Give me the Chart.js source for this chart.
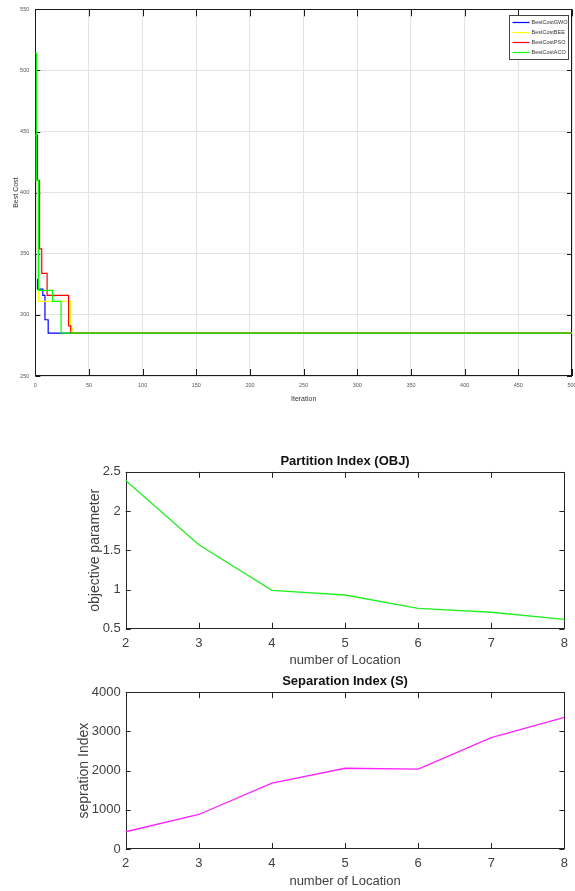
<!DOCTYPE html>
<html>
<head>
<meta charset="utf-8">
<script src="https://cdn.jsdelivr.net/npm/chart.js@4.4.1/dist/chart.umd.min.js"></script>
<style>
  html, body { margin: 0; padding: 0; background: #fff; }
  body { width: 575px; height: 891px; position: relative; overflow: hidden; }
  canvas { position: absolute; left: 0; }
</style>
</head>
<body>
<canvas id="costChart" width="575" height="410" style="top:0"></canvas>
<canvas id="partChart" width="575" height="230" style="top:440px"></canvas>
<canvas id="sepChart" width="575" height="221" style="top:670px"></canvas>
<script>
// Curvas de convergencia: iteración donde empieza cada nuevo valor (escalones)
const gwoIter = [0, 1, 2, 7, 9, 12, 500];
const gwoCost = [460, 447, 321, 316, 296, 285, 285];
const beeIter = [0, 1, 2, 3, 33, 35, 500];
const beeCost = [447, 410, 330, 311, 289, 285, 285];
const psoIter = [0, 1, 4, 6, 11, 31, 33, 500];
const psoCost = [422, 410, 354, 334, 316, 291, 285, 285];
const acoIter = [0, 1, 3, 16, 24, 500];
const acoCost = [514, 410, 320, 311, 285, 285];
const costLabels = ['BestCostGWO', 'BestCostBEE', 'BestCostPSO', 'BestCostACO'];

// Índices por número de ubicaciones
const locations = [2, 3, 4, 5, 6, 7, 8];
const partitionIndex = [2.39, 1.57, 0.99, 0.93, 0.76, 0.71, 0.62];
const separationIndex = [440, 880, 1680, 2060, 2040, 2840, 3360];

const FONT = '"Liberation Sans", Arial, sans-serif';

function puntos(xs, ys) {
  return xs.map((x, i) => ({ x, y: ys[i] }));
}

// Marco completo con marcas de escala hacia dentro (estilo MATLAB)
const boxTicks = {
  id: 'boxTicks',
  beforeDatasetsDraw(chart, args, opts) {
    const { ctx, chartArea: a, scales } = chart;
    const sx = scales.x, sy = scales.y;
    ctx.save();
    ctx.strokeStyle = opts.color;
    ctx.lineWidth = 1;
    ctx.beginPath();
    sx.ticks.forEach((t, i) => {
      const px = Math.round(sx.getPixelForTick(i)) + 0.5;
      ctx.moveTo(px, a.bottom); ctx.lineTo(px, a.bottom - opts.xLen);
      ctx.moveTo(px, a.top); ctx.lineTo(px, a.top + opts.xLen);
    });
    sy.ticks.forEach((t, i) => {
      const py = Math.round(sy.getPixelForTick(i)) + 0.5;
      ctx.moveTo(a.left, py); ctx.lineTo(a.left + opts.yLen, py);
      ctx.moveTo(a.right, py); ctx.lineTo(a.right - opts.yLen, py);
    });
    ctx.stroke();
    ctx.lineWidth = opts.width;
    ctx.strokeRect(Math.round(a.left) + 0.5, Math.round(a.top) + 0.5,
      Math.round(a.width) - 1, Math.round(a.height) - 1);
    ctx.restore();
  }
};

// Leyenda en caja, esquina superior derecha del área de trazado
const cornerLegend = {
  id: 'cornerLegend',
  afterDatasetsDraw(chart) {
    const { ctx, chartArea: a } = chart;
    const w = 59, h = 44;
    const x0 = Math.round(a.right) - 4 - w + 0.5;
    const y0 = Math.round(a.top) + 6 + 0.5;
    ctx.save();
    ctx.fillStyle = '#fff';
    ctx.fillRect(x0, y0, w, h);
    ctx.strokeStyle = '#444';
    ctx.lineWidth = 1;
    ctx.strokeRect(x0, y0, w, h);
    ctx.font = '5.5px ' + FONT;
    ctx.textBaseline = 'middle';
    chart.data.datasets.forEach((ds, i) => {
      const yy = y0 + 7 + i * 10;
      ctx.strokeStyle = ds.borderColor;
      ctx.lineWidth = 1.2;
      ctx.beginPath();
      ctx.moveTo(x0 + 3, yy);
      ctx.lineTo(x0 + 20, yy);
      ctx.stroke();
      ctx.fillStyle = '#333';
      ctx.fillText(ds.label, x0 + 22, yy);
    });
    ctx.restore();
  }
};

// Gráfico 1: costo por iteración
const series = [
  [gwoIter, gwoCost, '#0000ff', 3],
  [beeIter, beeCost, '#ffff00', 2],
  [psoIter, psoCost, '#ff0000', 1],
  [acoIter, acoCost, '#00ff00', 0],
];

new Chart(document.getElementById('costChart'), {
  type: 'line',
  data: {
    datasets: series.map(([xs, ys, color, order], i) => ({
      label: costLabels[i],
      data: puntos(xs, ys),
      borderColor: color,
      backgroundColor: color,
      borderWidth: 1.2,
      pointRadius: 0,
      stepped: 'before',
      order,
    })),
  },
  options: {
    responsive: false,
    animation: false,
    layout: { padding: { top: 7, right: 3, left: 0, bottom: 0 } },
    plugins: {
      legend: { display: false },
      tooltip: { enabled: false },
      boxTicks: { color: '#1a1a1a', xLen: 7, yLen: 5, width: 1 },
    },
    scales: {
      x: {
        type: 'linear', min: 0, max: 500,
        ticks: { stepSize: 50, autoSkip: false, maxRotation: 0, padding: 6, color: '#555', font: { family: FONT, size: 5.5 } },
        grid: { color: '#e3e3e3', drawTicks: false },
        border: { display: false },
        title: { display: true, text: 'Iteration', color: '#333', font: { family: FONT, size: 7 }, padding: { top: 0, bottom: 6.5 } },
        afterFit: s => { s.height = 34; s.paddingLeft = 0; s.paddingRight = 0; },
      },
      y: {
        min: 250, max: 550,
        ticks: { stepSize: 50, padding: 6, color: '#555', font: { family: FONT, size: 5.5 } },
        grid: { color: '#e3e3e3', drawTicks: false },
        border: { display: false },
        title: { display: true, text: 'Best Cost', color: '#333', font: { family: FONT, size: 7 }, padding: { top: 11.8, bottom: 0 } },
        afterFit: s => { s.width = 35.3; },
      },
    },
  },
  plugins: [boxTicks, cornerLegend],
});

// Gráficos 2 y 3: índices por número de ubicaciones
function indexChart(id, title, yTitle, values, color, yMin, yMax, step, titlePad, xHeight, yTitlePad) {
  return new Chart(document.getElementById(id), {
    type: 'line',
    data: {
      labels: locations.map(String),
      datasets: [{
        data: values,
        borderColor: color,
        borderWidth: 1.3,
        pointRadius: 0,
        tension: 0,
      }],
    },
    options: {
      responsive: false,
      animation: false,
      layout: { padding: { top: 0, right: 8.3, left: 0, bottom: 0 } },
      plugins: {
        legend: { display: false },
        tooltip: { enabled: false },
        title: {
          display: true, text: title, fullSize: false, color: '#111',
          font: { family: FONT, size: 13, weight: 'bold' },
          padding: titlePad,
        },
        boxTicks: { color: '#262626', xLen: 6, yLen: 5, width: 1 },
      },
      scales: {
        x: {
          type: 'category', offset: false,
          ticks: { autoSkip: false, maxRotation: 0, padding: 7, color: '#404040', font: { family: FONT, size: 13 } },
          grid: { display: false, drawTicks: false },
          border: { display: false },
          title: { display: true, text: 'number of Location', color: '#404040', font: { family: FONT, size: 13 }, padding: { top: 0, bottom: 1.5 } },
          afterFit: s => { s.height = xHeight; },
        },
        y: {
          min: yMin, max: yMax,
          ticks: { stepSize: step, padding: 5, color: '#404040', font: { family: FONT, size: 13 }, callback: v => String(v) },
          grid: { display: false, drawTicks: false },
          border: { display: false },
          title: { display: true, text: yTitle, color: '#404040', font: { family: FONT, size: 14 }, padding: { top: yTitlePad, bottom: 0 } },
          afterFit: s => { s.width = 125.7; },
        },
      },
    },
    plugins: [boxTicks],
  });
}

indexChart('partChart', 'Partition Index (OBJ)', 'objective parameter', partitionIndex, '#22ee22',
  0.5, 2.5, 0.5, { top: 13.5, bottom: 2.8 }, 41.3, 86.6);
indexChart('sepChart', 'Separation Index (S)', 'sepration Index', separationIndex, '#ff22ff',
  0, 4000, 1000, { top: 3.5, bottom: 3.1 }, 42, 75.6);
</script>
</body>
</html>
